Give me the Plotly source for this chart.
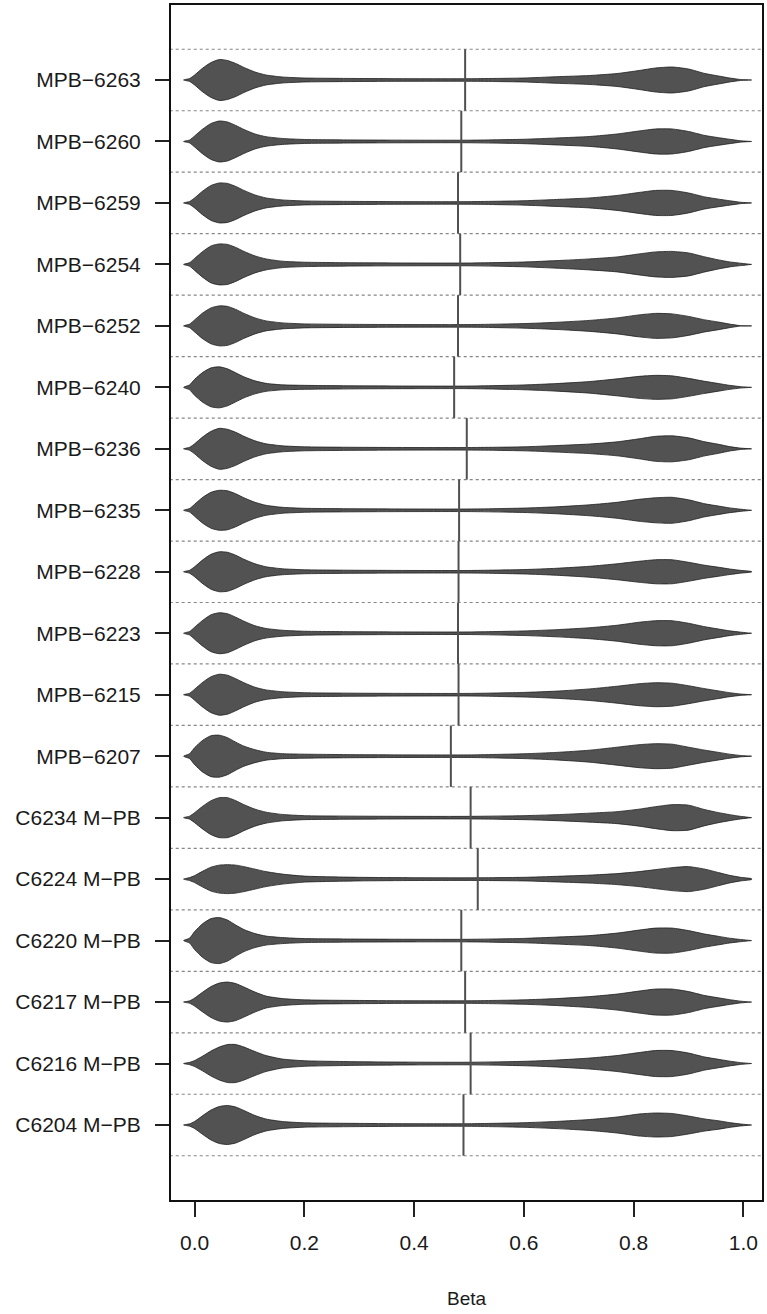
import plotly.graph_objects as go

# Samples, listed top to bottom
SAMPLES = [
    "MPB\u22126263", "MPB\u22126260", "MPB\u22126259", "MPB\u22126254", "MPB\u22126252",
    "MPB\u22126240", "MPB\u22126236", "MPB\u22126235", "MPB\u22126228", "MPB\u22126223",
    "MPB\u22126215", "MPB\u22126207", "C6234 M\u2212PB", "C6224 M\u2212PB", "C6220 M\u2212PB",
    "C6217 M\u2212PB", "C6216 M\u2212PB", "C6204 M\u2212PB",
]

# Mean beta value per sample
MEAN_BETA = [0.493, 0.486, 0.480, 0.484, 0.480, 0.473, 0.496, 0.482, 0.481,
             0.480, 0.481, 0.467, 0.503, 0.516, 0.486, 0.493, 0.503, 0.490]

# Beta grid on which the bean densities are given
BETA_GRID = [-0.02, -0.009, 0.0, 0.015, 0.03, 0.045, 0.06, 0.075, 0.09, 0.11,
             0.13, 0.16, 0.2, 0.3, 0.4, 0.5, 0.6, 0.66, 0.72, 0.77,
             0.81, 0.84, 0.87, 0.9, 0.93, 0.955, 0.975, 0.995, 1.015]

# Bean half-widths (density, scaled) for each sample on BETA_GRID
DENSITY = [
    [0, 1.5, 5, 12, 17.5, 20.5, 19.5, 16.5, 12.5, 8, 5, 3, 2, 1.5, 1.3, 1.3,
     2, 3.3, 4.5, 6.5, 9.5, 12, 13, 11, 6.5, 4, 2, 0.5, 0],
    [0, 1.5, 5.5, 12.5, 18, 20.5, 19.5, 16, 12, 7.5, 4.8, 3, 2, 1.5, 1.3, 1.3,
     2.2, 3.5, 5, 7.5, 10.5, 12.5, 12.5, 10, 6, 3.8, 2.2, 0.7, 0],
    [0, 1.5, 5, 12, 17.5, 20, 19.5, 16.5, 12.5, 8, 5, 3, 2, 1.5, 1.3, 1.3,
     2.2, 3.5, 5, 7.5, 10.5, 12.5, 12.5, 10, 6, 3.8, 2.2, 0.7, 0],
    [0, 1.8, 6, 13, 18.5, 20.5, 20, 17, 13, 8.5, 5.5, 3.2, 2.2, 1.6, 1.4, 1.4,
     2.4, 3.8, 5.5, 7.5, 10.5, 12.5, 13, 11.5, 7.5, 4.5, 2.5, 1.2, 0],
    [0, 1.8, 6, 13, 18, 20, 19.5, 16.5, 12.5, 8, 5, 3, 2, 1.5, 1.3, 1.3,
     2.3, 3.6, 5.5, 8, 11, 12.5, 12, 9.5, 6, 3.8, 1.8, 0.2, 0],
    [0, 2.5, 8, 15, 19.5, 20.5, 18.5, 14.5, 10.5, 6.5, 4, 2.5, 2, 1.5, 1.3, 1.3,
     2.4, 3.8, 5.8, 8.5, 11, 12, 11.5, 9, 6, 3.8, 2, 0.7, 0],
    [0, 1.5, 5, 12, 17.5, 20.5, 19.5, 16.5, 12.5, 8, 5, 3, 2, 1.5, 1.3, 1.3,
     2, 3.3, 4.8, 7, 10, 12.5, 13, 11, 7, 4.5, 2.2, 0.7, 0],
    [0, 1.8, 6, 13, 18, 20, 19.5, 16.5, 12.5, 8, 5, 3, 2, 1.5, 1.3, 1.3,
     2.2, 3.5, 5.5, 8, 11, 12.5, 13, 10.5, 6.5, 4.2, 2.4, 1.1, 0],
    [0, 1.5, 5, 12, 17.5, 20, 19.5, 16.5, 12.5, 8, 5, 3, 2, 1.5, 1.3, 1.3,
     2.2, 3.5, 5.5, 8, 10.5, 12, 12, 9.5, 6.5, 4.5, 2.8, 1.4, 0.2],
    [0, 1.8, 6, 13, 18.5, 20.5, 19.5, 16, 12, 7.5, 4.8, 3, 2, 1.5, 1.3, 1.3,
     2.3, 3.6, 5.5, 8, 11, 12.5, 12.5, 10, 6.5, 4.2, 2.4, 1.1, 0],
    [0, 1.5, 5.5, 12.5, 18, 20.5, 19.5, 16, 12, 7.5, 4.8, 3, 2, 1.5, 1.3, 1.3,
     2.3, 3.6, 5.8, 8.5, 11, 12, 11.5, 9, 6, 3.8, 2, 0.7, 0],
    [0, 2.5, 8.5, 16, 20.5, 21, 18.5, 14, 10, 6.5, 4, 2.5, 2, 1.5, 1.3, 1.3,
     2.4, 3.8, 6, 9, 11.5, 12.5, 12, 9, 6, 3.8, 2, 0.7, 0],
    [0, 1.5, 5, 11.5, 17, 20, 20, 17, 13, 8.5, 5.5, 3.2, 2, 1.5, 1.3, 1.3,
     2, 3, 4.5, 6, 8.5, 11, 13, 12.5, 8, 5, 3, 1.3, 0],
    [0, 1.5, 3.5, 8, 12, 14, 14.5, 14, 12.5, 10, 7.5, 5, 3, 1.8, 1.4, 1.3,
     1.8, 2.8, 4, 5.5, 7.5, 9.5, 11.5, 12.5, 10, 6.5, 3.8, 1.8, 0.4],
    [0, 2.5, 9, 17, 22, 23, 20.5, 15.5, 11, 7, 4.5, 3, 2, 1.5, 1.3, 1.3,
     2.2, 3.5, 5, 7.5, 10.5, 12.5, 12.5, 10, 6.5, 4.2, 2.4, 1.1, 0],
    [0, 1.2, 4, 10, 15.5, 19, 20, 18.5, 15, 10, 6, 3.5, 2.2, 1.6, 1.3, 1.3,
     2.2, 3.5, 5.5, 8, 11, 13, 13, 10.5, 6.5, 4.2, 2.4, 0.9, 0],
    [0, 1.2, 3, 7.5, 12.5, 16.5, 19, 19, 16.5, 12, 8, 4.5, 2.8, 1.8, 1.4, 1.3,
     2.2, 3.5, 5.5, 8, 11, 13, 13, 10.5, 6.5, 4.2, 2.4, 0.9, 0],
    [0, 1.2, 3.5, 9.5, 15, 18.5, 19.5, 18, 14.5, 9.5, 6, 3.5, 2.2, 1.6, 1.3, 1.3,
     2.3, 3.6, 5.5, 8, 11, 12, 11.5, 9, 6, 4.2, 2.4, 1.0, 0],
]

X_TICKS = [0.0, 0.2, 0.4, 0.6, 0.8, 1.0]
X_TICK_TEXT = ["0.0", "0.2", "0.4", "0.6", "0.8", "1.0"]

# density units -> fraction of one row
DENSITY_TO_ROW = 1 / 61.5

n = len(SAMPLES)
positions = [n - i for i in range(n)]  # top sample at the highest position

fig = go.Figure()

# dotted separators between beans
for k in range(n + 1):
    yk = k + 0.5
    fig.add_trace(go.Scatter(
        x=[-0.1, 1.1], y=[yk, yk], mode="lines",
        line=dict(color="#858585", width=1.2, dash="dot"),
        hoverinfo="skip", showlegend=False))

# beans
for i, name in enumerate(SAMPLES):
    pos = positions[i]
    hw = [d * DENSITY_TO_ROW for d in DENSITY[i]]
    xs = BETA_GRID + BETA_GRID[::-1]
    ys = [pos + h for h in hw] + [pos - h for h in hw[::-1]]
    fig.add_trace(go.Scatter(
        x=xs, y=ys, mode="lines", fill="toself",
        fillcolor="#525252",
        line=dict(color="#1e1e1e", width=0.8, shape="spline", smoothing=0.6),
        name=name, hoverinfo="name", showlegend=False))

# mean lines
for i, m in enumerate(MEAN_BETA):
    pos = positions[i]
    fig.add_trace(go.Scatter(
        x=[m, m], y=[pos - 0.5, pos + 0.5], mode="lines",
        line=dict(color="#505050", width=2),
        hoverinfo="skip", showlegend=False))

font_family = "Liberation Sans, Arial, sans-serif"

fig.update_layout(
    width=767, height=1314,
    margin=dict(l=171, r=3, t=5, b=114),
    paper_bgcolor="white", plot_bgcolor="white",
    font=dict(family=font_family, color="#1a1a1a"),
    xaxis=dict(
        range=[-0.043, 1.034],
        tickvals=X_TICKS, ticktext=X_TICK_TEXT,
        ticks="outside", ticklen=15, tickwidth=1.5, tickcolor="#222",
        tickfont=dict(size=21, family=font_family, color="#1a1a1a"),
        ticklabelstandoff=8,
        showgrid=False, zeroline=False,
        showline=True, linecolor="#111", linewidth=2, mirror=True,
        title=dict(text="Beta", font=dict(size=19, family=font_family, color="#1a1a1a"),
                   standoff=38),
    ),
    yaxis=dict(
        range=[-0.22, n + 1.22],
        tickvals=positions, ticktext=SAMPLES,
        ticks="outside", ticklen=14, tickwidth=1.5, tickcolor="#222",
        tickfont=dict(size=21, family=font_family, color="#1a1a1a"),
        ticklabelstandoff=10,
        showgrid=False, zeroline=False,
        showline=True, linecolor="#111", linewidth=2, mirror=True,
    ),
)

fig.write_html("out.html")
